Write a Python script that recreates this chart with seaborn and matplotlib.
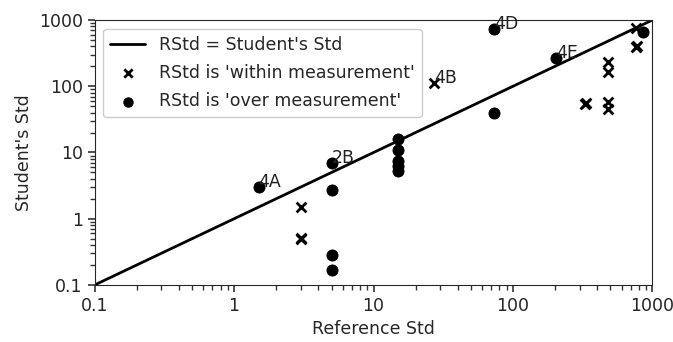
import numpy as np
import pandas as pd
import matplotlib
matplotlib.use("Agg")
import matplotlib.pyplot as plt
import matplotlib.ticker as mticker
import seaborn as sns

# ---------------------------------------------------------
# Data (log-log)
# ---------------------------------------------------------
over_ref = [1.5, 5.0, 5.0, 5.0, 5.0, 15, 15, 15, 15, 15, 73, 73, 205, 850]
over_student = [3.0, 6.9, 2.7, 0.28, 0.17, 16, 11, 7.5, 6.2, 5.2, 724, 40, 264, 660]

within_ref = [27, 3.0, 3.0, 3.0, 330, 335, 480, 480, 480, 480, 760, 770, 760]
within_student = [111, 1.5, 0.5, 0.52, 54, 56, 235, 166, 58, 45, 396, 410, 750]

line_x = [0.1, 1000]
line_y = [0.1, 1000]

labels = ["4A", "2B", "4B", "4D", "4E"]
label_x = [1.5, 5.0, 27, 73, 205]
label_y = [3.0, 6.9, 111, 724, 264]

tick_vals = [0.1, 1, 10, 100, 1000]

over_df = pd.DataFrame({"ref": over_ref, "student": over_student})
within_df = pd.DataFrame({"ref": within_ref, "student": within_student})
line_df = pd.DataFrame({"ref": line_x, "student": line_y})

# ---------------------------------------------------------
# Plot
# ---------------------------------------------------------
sns.set_style("ticks", {"xtick.minor.visible": True, "ytick.minor.visible": True})
plt.rcParams["font.family"] = ["DejaVu Sans"]
fs = 12.5
plt.rcParams["font.size"] = fs

fig, ax = plt.subplots(figsize=(6.73, 3.42), dpi=100)
fig.subplots_adjust(left=0.1406, right=0.9695, top=0.9415, bottom=0.1667)

sns.lineplot(data=line_df, x="ref", y="student", color="black", lw=2,
             label="RStd = Student's Std", ax=ax)
sns.scatterplot(data=within_df, x="ref", y="student", marker="x", color="black",
                s=50, linewidth=2, label="RStd is 'within measurement'", ax=ax)
sns.scatterplot(data=over_df, x="ref", y="student", marker="o", color="black",
                s=64, edgecolor="black", label="RStd is 'over measurement'", ax=ax)

for lab, lx, ly in zip(labels, label_x, label_y):
    ax.text(lx, ly, lab, fontsize=fs, color="#222222")

ax.set_xscale("log")
ax.set_yscale("log")
ax.set_xlim(0.1, 1000)
ax.set_ylim(0.1, 1000)
ax.set_xticks(tick_vals)
ax.set_yticks(tick_vals)
fmt = mticker.FuncFormatter(lambda v, p: f"{v:g}")
ax.xaxis.set_major_formatter(fmt)
ax.yaxis.set_major_formatter(fmt)
ax.xaxis.set_minor_locator(mticker.LogLocator(base=10, subs=np.arange(2, 10), numticks=20))
ax.yaxis.set_minor_locator(mticker.LogLocator(base=10, subs=np.arange(2, 10), numticks=20))
ax.xaxis.set_minor_formatter(mticker.NullFormatter())
ax.yaxis.set_minor_formatter(mticker.NullFormatter())
ax.tick_params(which="major", length=5, width=1.2, labelsize=fs, color="#333333")
ax.tick_params(which="minor", length=3.5, width=1, color="#333333")
ax.set_xlabel("Reference Std", fontsize=fs)
ax.set_ylabel("Student's Std", fontsize=fs)

ax.legend(loc="upper left", fontsize=fs, framealpha=1, markerscale=0.85,
          labelspacing=0.6)

plt.savefig("out.png", dpi=100)
